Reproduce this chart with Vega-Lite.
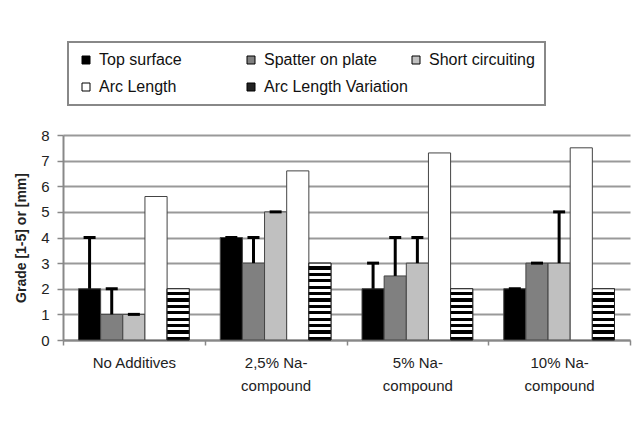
{
  "$schema": "https://vega.github.io/schema/vega-lite/v6.json",
  "autosize": "none",
  "width": 567,
  "height": 205,
  "padding": {"left": 63, "top": 135, "right": 2, "bottom": 87},
  "background": "white",
  "config": {
    "font": "Liberation Sans",
    "view": {"stroke": null}
  },
  "data": {
    "values": [
      {"group": "No Additives", "series": "Top surface", "value": 2, "upper": 4},
      {"group": "No Additives", "series": "Spatter on plate", "value": 1, "upper": 2},
      {"group": "No Additives", "series": "Short circuiting", "value": 1, "upper": 1},
      {"group": "No Additives", "series": "Arc Length", "value": 5.6, "upper": null},
      {"group": "No Additives", "series": "Arc Length Variation", "value": 2, "upper": null},
      {"group": "2,5% Na-compound", "series": "Top surface", "value": 4, "upper": 4},
      {"group": "2,5% Na-compound", "series": "Spatter on plate", "value": 3, "upper": 4},
      {"group": "2,5% Na-compound", "series": "Short circuiting", "value": 5, "upper": 5},
      {"group": "2,5% Na-compound", "series": "Arc Length", "value": 6.6, "upper": null},
      {"group": "2,5% Na-compound", "series": "Arc Length Variation", "value": 3, "upper": null},
      {"group": "5% Na-compound", "series": "Top surface", "value": 2, "upper": 3},
      {"group": "5% Na-compound", "series": "Spatter on plate", "value": 2.5, "upper": 4},
      {"group": "5% Na-compound", "series": "Short circuiting", "value": 3, "upper": 4},
      {"group": "5% Na-compound", "series": "Arc Length", "value": 7.3, "upper": null},
      {"group": "5% Na-compound", "series": "Arc Length Variation", "value": 2, "upper": null},
      {"group": "10% Na-compound", "series": "Top surface", "value": 2, "upper": 2},
      {"group": "10% Na-compound", "series": "Spatter on plate", "value": 3, "upper": 3},
      {"group": "10% Na-compound", "series": "Short circuiting", "value": 3, "upper": 5},
      {"group": "10% Na-compound", "series": "Arc Length", "value": 7.5, "upper": null},
      {"group": "10% Na-compound", "series": "Arc Length Variation", "value": 2, "upper": null}
    ]
  },
  "encoding": {
    "x": {
      "field": "group",
      "type": "nominal",
      "sort": ["No Additives", "2,5% Na-compound", "5% Na-compound", "10% Na-compound"],
      "scale": {"paddingInner": 0, "paddingOuter": 0},
      "axis": {
        "title": null,
        "labelAngle": 0,
        "tickBand": "extent",
        "tickSize": 5,
        "tickColor": "#888",
        "tickWidth": 1.5,
        "domainColor": "#888",
        "domainWidth": 2,
        "labelFontSize": 15,
        "labelColor": "#222",
        "labelPadding": 10,
        "labelLineHeight": 23,
        "labelExpr": "split(replace(datum.label, 'Na-', 'Na-|'), '|')"
      }
    },
    "xOffset": {
      "field": "series",
      "type": "nominal",
      "scale": {
        "domain": ["Top surface", "Spatter on plate", "Short circuiting", "Arc Length", "Arc Length Variation"],
        "paddingInner": 0,
        "paddingOuter": 0.7
      }
    },
    "y": {
      "field": "value",
      "type": "quantitative",
      "scale": {"domain": [0, 8], "nice": false},
      "axis": {
        "title": "Grade [1-5] or [mm]",
        "values": [0, 1, 2, 3, 4, 5, 6, 7, 8],
        "tickCount": 10,
        "labelOverlap": false,
        "titleFontSize": 14,
        "titleFontWeight": "bold",
        "titleColor": "#222",
        "titlePadding": 12,
        "labelFontSize": 15,
        "labelColor": "#222",
        "labelPadding": 8,
        "tickSize": 6,
        "tickColor": "#888",
        "tickWidth": 1.5,
        "domainColor": "#888",
        "domainWidth": 2,
        "grid": true,
        "gridColor": "#999",
        "gridWidth": 2
      }
    }
  },
  "layer": [
    {
      "mark": {"type": "bar", "stroke": "#444", "strokeWidth": 1},
      "encoding": {
        "color": {
          "field": "series",
          "type": "nominal",
          "scale": {
            "domain": ["Top surface", "Spatter on plate", "Short circuiting", "Arc Length", "Arc Length Variation"],
            "range": ["#000000", "#808080", "#c0c0c0", "#ffffff", "#222222"]
          },
          "legend": {
            "orient": "none",
            "legendX": 5,
            "legendY": -93,
            "title": null,
            "direction": "horizontal",
            "columns": 3,
            "gridAlign": "all",
            "columnPadding": 0,
            "rowPadding": 11,
            "padding": 10,
            "strokeColor": "#888",
            "fillColor": "white",
            "symbolType": "square",
            "symbolSize": 64,
            "symbolStrokeColor": "black",
            "symbolStrokeWidth": 1,
            "labelFontSize": 16,
            "labelColor": "#111",
            "labelOffset": 5,
            "encode": {
              "legend": {"update": {"strokeWidth": {"value": 2}}},
              "symbols": {"update": {"stroke": {"value": "black"}, "strokeWidth": {"value": 1}}}
            }
          }
        }
      }
    },
    {
      "transform": [{"filter": "datum.series == 'Arc Length Variation' && datum.value >= 3"}],
      "mark": {"type": "bar", "stroke": "#222", "strokeWidth": 1,
        "fill": {"gradient": "linear", "x1": 0, "y1": 0, "x2": 0, "y2": 1, "stops": [
          {"offset": 0, "color": "#fff"}, {"offset": 0.041667, "color": "#fff"}, {"offset": 0.041667, "color": "#000"}, {"offset": 0.083333, "color": "#000"},
          {"offset": 0.083333, "color": "#fff"}, {"offset": 0.125, "color": "#fff"}, {"offset": 0.125, "color": "#000"}, {"offset": 0.166667, "color": "#000"},
          {"offset": 0.166667, "color": "#fff"}, {"offset": 0.208333, "color": "#fff"}, {"offset": 0.208333, "color": "#000"}, {"offset": 0.25, "color": "#000"},
          {"offset": 0.25, "color": "#fff"}, {"offset": 0.291667, "color": "#fff"}, {"offset": 0.291667, "color": "#000"}, {"offset": 0.333333, "color": "#000"},
          {"offset": 0.333333, "color": "#fff"}, {"offset": 0.375, "color": "#fff"}, {"offset": 0.375, "color": "#000"}, {"offset": 0.416667, "color": "#000"},
          {"offset": 0.416667, "color": "#fff"}, {"offset": 0.458333, "color": "#fff"}, {"offset": 0.458333, "color": "#000"}, {"offset": 0.5, "color": "#000"},
          {"offset": 0.5, "color": "#fff"}, {"offset": 0.541667, "color": "#fff"}, {"offset": 0.541667, "color": "#000"}, {"offset": 0.583333, "color": "#000"},
          {"offset": 0.583333, "color": "#fff"}, {"offset": 0.625, "color": "#fff"}, {"offset": 0.625, "color": "#000"}, {"offset": 0.666667, "color": "#000"},
          {"offset": 0.666667, "color": "#fff"}, {"offset": 0.708333, "color": "#fff"}, {"offset": 0.708333, "color": "#000"}, {"offset": 0.75, "color": "#000"},
          {"offset": 0.75, "color": "#fff"}, {"offset": 0.791667, "color": "#fff"}, {"offset": 0.791667, "color": "#000"}, {"offset": 0.833333, "color": "#000"},
          {"offset": 0.833333, "color": "#fff"}, {"offset": 0.875, "color": "#fff"}, {"offset": 0.875, "color": "#000"}, {"offset": 0.916667, "color": "#000"},
          {"offset": 0.916667, "color": "#fff"}, {"offset": 0.958333, "color": "#fff"}, {"offset": 0.958333, "color": "#000"}, {"offset": 1, "color": "#000"}
        ]}},
      "encoding": {}
    },
    {
      "transform": [{"filter": "datum.series == 'Arc Length Variation' && datum.value < 3"}],
      "mark": {"type": "bar", "stroke": "#222", "strokeWidth": 1,
        "fill": {"gradient": "linear", "x1": 0, "y1": 0, "x2": 0, "y2": 1, "stops": [
          {"offset": 0, "color": "#fff"}, {"offset": 0.0625, "color": "#fff"}, {"offset": 0.0625, "color": "#000"}, {"offset": 0.125, "color": "#000"},
          {"offset": 0.125, "color": "#fff"}, {"offset": 0.1875, "color": "#fff"}, {"offset": 0.1875, "color": "#000"}, {"offset": 0.25, "color": "#000"},
          {"offset": 0.25, "color": "#fff"}, {"offset": 0.3125, "color": "#fff"}, {"offset": 0.3125, "color": "#000"}, {"offset": 0.375, "color": "#000"},
          {"offset": 0.375, "color": "#fff"}, {"offset": 0.4375, "color": "#fff"}, {"offset": 0.4375, "color": "#000"}, {"offset": 0.5, "color": "#000"},
          {"offset": 0.5, "color": "#fff"}, {"offset": 0.5625, "color": "#fff"}, {"offset": 0.5625, "color": "#000"}, {"offset": 0.625, "color": "#000"},
          {"offset": 0.625, "color": "#fff"}, {"offset": 0.6875, "color": "#fff"}, {"offset": 0.6875, "color": "#000"}, {"offset": 0.75, "color": "#000"},
          {"offset": 0.75, "color": "#fff"}, {"offset": 0.8125, "color": "#fff"}, {"offset": 0.8125, "color": "#000"}, {"offset": 0.875, "color": "#000"},
          {"offset": 0.875, "color": "#fff"}, {"offset": 0.9375, "color": "#fff"}, {"offset": 0.9375, "color": "#000"}, {"offset": 1, "color": "#000"}
        ]}},
      "encoding": {}
    },
    {
      "transform": [{"filter": "isValid(datum.upper)"}],
      "mark": {"type": "rule", "color": "black", "strokeWidth": 3},
      "encoding": {
        "y2": {"field": "upper"}
      }
    },
    {
      "transform": [{"filter": "isValid(datum.upper)"}],
      "mark": {"type": "tick", "color": "black", "size": 12, "thickness": 3, "orient": "horizontal", "opacity": 1},
      "encoding": {
        "y": {
          "field": "upper",
          "type": "quantitative",
          "axis": {
            "title": "Grade [1-5] or [mm]",
            "values": [0, 1, 2, 3, 4, 5, 6, 7, 8],
            "tickCount": 10,
            "labelOverlap": false,
            "titleFontSize": 14,
            "titleFontWeight": "bold",
            "titleColor": "#222",
            "titlePadding": 12,
            "labelFontSize": 15,
            "labelColor": "#222",
            "labelPadding": 8,
            "tickSize": 6,
            "tickColor": "#888",
            "tickWidth": 1.5,
            "domainColor": "#888",
            "domainWidth": 2,
            "grid": true,
            "gridColor": "#999",
            "gridWidth": 2
          }
        }
      }
    }
  ]
}
